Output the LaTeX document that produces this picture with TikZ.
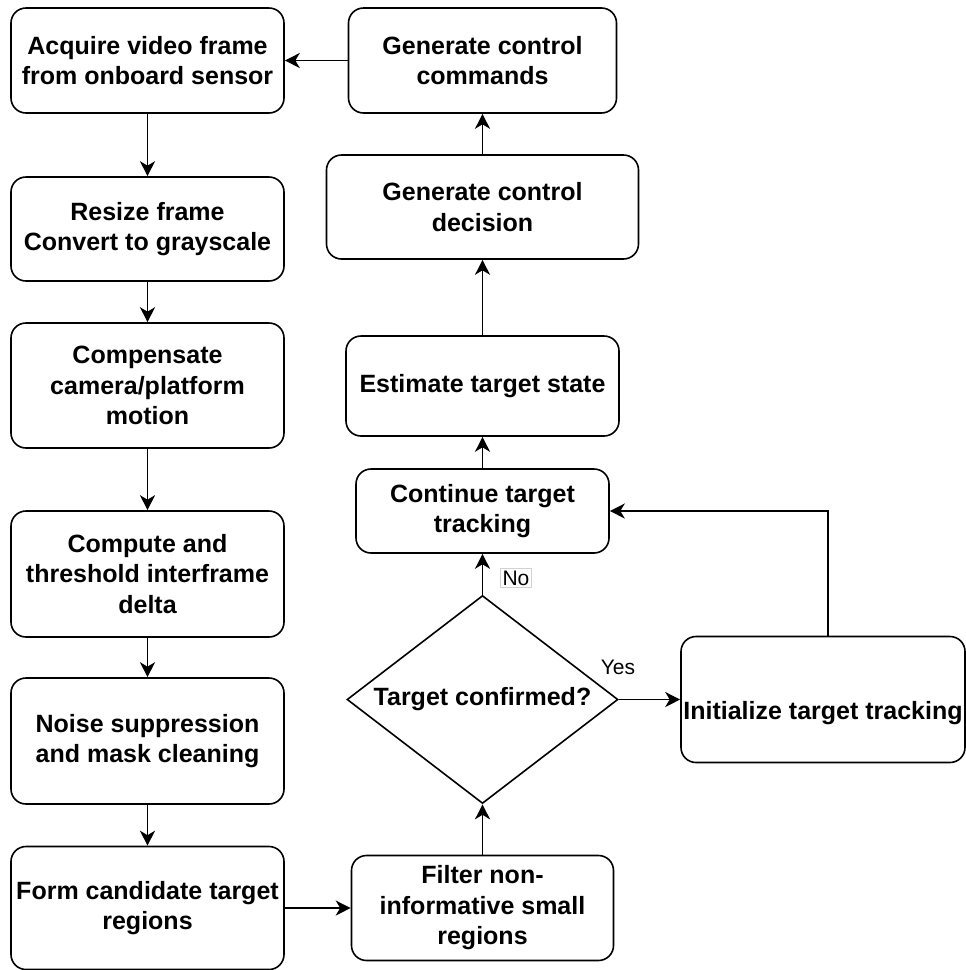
\documentclass[tikz,border=0pt]{standalone}
\usepackage{fontspec}
\setmainfont{Liberation Sans}
\usetikzlibrary{shapes.geometric,arrows.meta}
\begin{document}
\begin{tikzpicture}[x=1pt,y=-1pt,
  boxfont/.style={font=\fontsize{25}{30.5}\selectfont\bfseries},
  box/.style={draw, line width=1.6pt, rounded corners=15pt, inner sep=0pt, align=center, boxfont},
  dec/.style={draw, line width=1.6pt, diamond, aspect=1.3, inner sep=0pt, align=center, boxfont},
  arr/.style={line width=1.6pt, -{Stealth[length=15pt,width=15pt,inset=4.5pt]}},
  lbl/.style={font=\fontsize{21}{25}\selectfont, inner sep=2pt}
]
\useasboundingbox (0,0) rectangle (966,970);

% left column
\node[box, minimum width=273pt, minimum height=105pt] (acq) at (147.5,60.5) {Acquire video frame\\from onboard sensor};
\node[box, minimum width=273pt, minimum height=104pt] (res) at (147.5,229) {Resize frame\\Convert to grayscale};
\node[box, minimum width=273pt, minimum height=125pt] (comp) at (147.5,385.5) {Compensate\\camera/platform\\motion};
\node[box, minimum width=273pt, minimum height=126pt] (cmpt) at (147.5,574) {Compute and\\threshold interframe\\delta};
\node[box, minimum width=273pt, minimum height=126pt] (noise) at (147.5,741) {Noise suppression\\and mask cleaning};
\node[box, minimum width=273pt, minimum height=123pt] (form) at (147.5,908) {Form candidate target\\regions};

% right column
\node[box, minimum width=262pt, minimum height=105pt] (filt) at (482.5,908) {Filter non-\\informative small\\regions};
\node[dec, minimum width=271pt, minimum height=208pt] (dia) at (482.5,699.5) {Target confirmed?};
\node[box, minimum width=253pt, minimum height=84pt] (cont) at (482.5,511) {Continue target\\tracking};
\node[box, minimum width=273pt, minimum height=100pt] (est) at (482.5,386) {Estimate target state};
\node[box, minimum width=312pt, minimum height=104pt] (decn) at (482.5,207) {Generate control\\decision};
\node[box, minimum width=268pt, minimum height=105pt] (gen) at (482.5,60.5) {Generate control\\commands};
\node[box, minimum width=284pt, minimum height=126pt,
      label={[boxfont, yshift=-14pt]center:Initialize target tracking}] (init) at (823,699.5) {};

\coordinate (bend) at (828,511);

% connectors
\draw[arr] (gen) -- (acq);
\draw[arr] (acq) -- (res);
\draw[arr] (res) -- (comp);
\draw[arr] (comp) -- (cmpt);
\draw[arr] (cmpt) -- (noise);
\draw[arr] (noise) -- (form);
\draw[arr] (form) -- (filt);
\draw[arr] (filt.north) -- (dia.south);
\draw[arr] (dia.north) -- (cont.south);
\draw[arr] (dia.east) -- (init.west);
\draw[arr] (init.north -| bend) -- (bend) -- (cont.east);
\draw[arr] (cont) -- (est);
\draw[arr] (est) -- (decn);
\draw[arr] (decn) -- (gen);

% labels
\node[lbl, draw=gray!35, line width=0.8pt, fill=white] (no) at (516,578) {No};
\node[lbl] (yes) at (618,667) {Yes};
\end{tikzpicture}
\end{document}
